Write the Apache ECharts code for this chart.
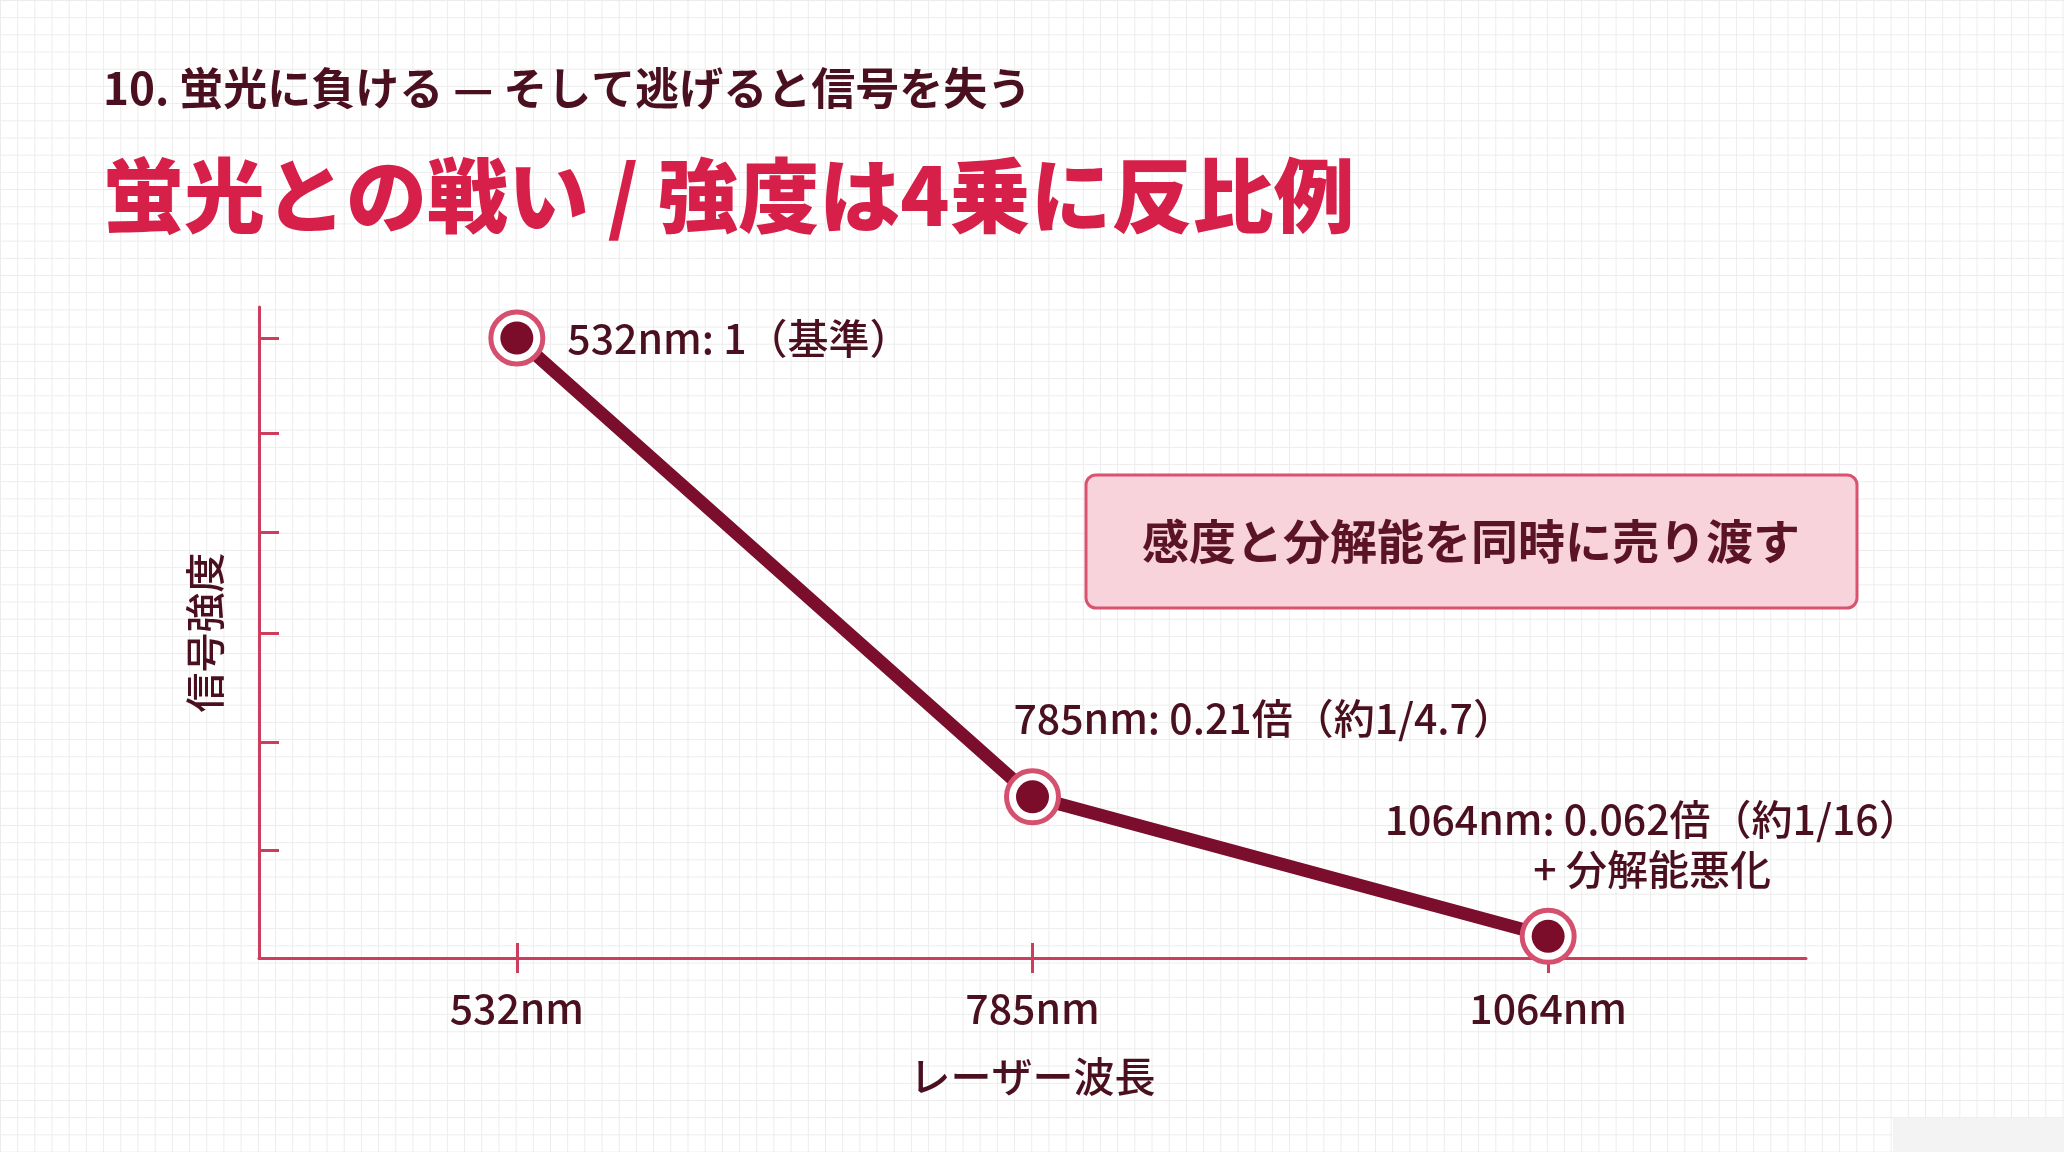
<!DOCTYPE html>
<html>
<head>
<meta charset="utf-8">
<title>蛍光との戦い</title>
<style>
  html, body { margin: 0; padding: 0; }
  body {
    width: 2064px; height: 1152px; overflow: hidden;
    background-color: #ffffff;
    background-image:
      linear-gradient(to right, #ececec 1px, transparent 1px),
      linear-gradient(to bottom, #ececec 1px, transparent 1px);
    background-size: 17.2px 17.2px;
  }
  #main { width: 2064px; height: 1152px; }
</style>
</head>
<body>
<div id="main"></div>
<script src="https://cdn.jsdelivr.net/npm/echarts/dist/echarts.min.js"></script>
<script type="text/javascript">
    // データ
    var wavelengths = ['532nm', '785nm', '1064nm'];
    // 図上の相対強度（532nm = 1）
    var intensity = [1, 0.26, 0.035];
    var pointLabels = [
        '532nm: 1（基準）',
        '785nm: 0.21倍（約1/4.7）',
        '1064nm: 0.062倍（約1/16）\n+ 分解能悪化'
    ];
    // 縦軸の目盛り位置
    var yTicks = [0.174, 0.348, 0.523, 0.686, 0.847, 1];

    var FONT = '"Noto Sans CJK JP", "Noto Sans", sans-serif';
    var DARK = '#4b1020';
    var AXIS = '#cc3d5e';

    var labelPos = [
        {position: 'right', distance: 34},
        {position: 'top', align: 'left', offset: [-19, -36]},
        {position: 'top', align: 'center', offset: [104, -20], lineHeight: 50}
    ];

    var dotData = intensity.map(function (v, i) {
        return {
            value: v,
            label: Object.assign({show: true, formatter: pointLabels[i]}, labelPos[i])
        };
    });

    var myChart = echarts.init(document.getElementById('main'));
    var option = {
        backgroundColor: 'transparent',
        title: [
            {
                text: '10. 蛍光に負ける — そして逃げると信号を失う',
                left: 98, top: 61,
                textStyle: {fontFamily: FONT, fontSize: 44, fontWeight: 'bold', color: DARK}
            },
            {
                text: '蛍光との戦い / 強度は4乗に反比例',
                left: 98, top: 150,
                textStyle: {fontFamily: FONT, fontSize: 81, fontWeight: 900, color: '#d61f49'}
            }
        ],
        grid: {left: 259, right: 258, top: 307, bottom: 194},
        xAxis: [
            {
                type: 'category',
                data: wavelengths,
                boundaryGap: true,
                axisLine: {lineStyle: {color: AXIS, width: 3}},
                axisTick: {show: true, alignWithLabel: true, length: 15, lineStyle: {color: AXIS, width: 3}},
                axisLabel: {fontFamily: FONT, fontSize: 41, fontWeight: 500, color: DARK, margin: 30},
                name: 'レーザー波長',
                nameLocation: 'middle',
                nameGap: 98,
                nameTextStyle: {fontFamily: FONT, fontSize: 41, fontWeight: 500, color: DARK}
            },
            {
                // 軸を貫く目盛りの上側
                type: 'category',
                data: wavelengths,
                position: 'bottom',
                boundaryGap: true,
                axisLine: {show: false},
                axisTick: {show: true, inside: true, alignWithLabel: true, length: 15, lineStyle: {color: AXIS, width: 3}},
                axisLabel: {show: false}
            }
        ],
        yAxis: {
            type: 'value',
            min: 0,
            max: 1.05,
            axisLine: {show: true, lineStyle: {color: AXIS, width: 3}},
            axisTick: {show: true, inside: true, length: 20, customValues: yTicks, lineStyle: {color: AXIS, width: 3}},
            axisLabel: {show: false},
            splitLine: {show: false},
            name: '信号強度',
            nameLocation: 'middle',
            nameRotate: 90,
            nameGap: 34,
            nameTextStyle: {fontFamily: FONT, fontSize: 40, fontWeight: 500, color: DARK}
        },
        series: [
            {
                name: '信号強度',
                type: 'line',
                data: intensity,
                showSymbol: false,
                lineStyle: {color: '#7b0e2d', width: 13},
                z: 2
            },
            {
                type: 'scatter',
                data: intensity,
                symbolSize: 52,
                itemStyle: {color: '#ffffff', borderColor: '#d4506e', borderWidth: 5, opacity: 1},
                z: 3
            },
            {
                type: 'scatter',
                data: dotData,
                symbolSize: 33,
                itemStyle: {color: '#7b0c2a', opacity: 1},
                label: {fontFamily: FONT, fontSize: 41, fontWeight: 500, color: DARK},
                z: 4
            }
        ],
        graphic: [
            {
                type: 'rect',
                shape: {x: 1086, y: 475, width: 771, height: 133, r: 10},
                style: {fill: '#f8d3db', stroke: '#d9536f', lineWidth: 3},
                z: 10
            },
            {
                type: 'text',
                x: 1471, y: 541,
                style: {
                    text: '感度と分解能を同時に売り渡す',
                    font: 'bold 47px "Noto Sans CJK JP"',
                    fill: '#5a1426',
                    textAlign: 'center',
                    textVerticalAlign: 'middle'
                },
                z: 11
            },
            {
                type: 'rect',
                shape: {x: 1893, y: 1118, width: 171, height: 34},
                style: {fill: '#f3f3f3'},
                z: 1
            }
        ]
    };

    myChart.setOption(option);
</script>
</body>
</html>
